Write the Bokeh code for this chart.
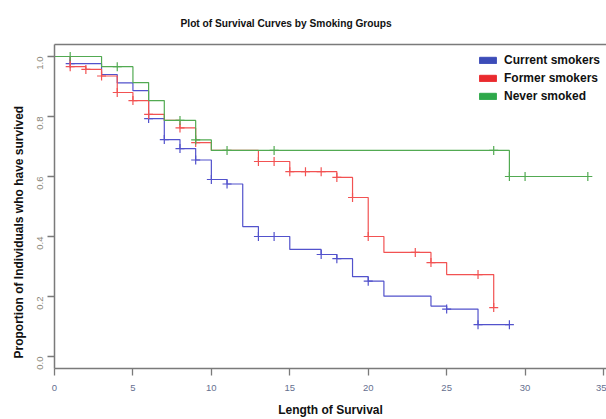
import numpy as np
from bokeh.plotting import figure
from bokeh.models import (Range1d, LinearAxis, FixedTicker, Legend, LegendItem, Title)
from bokeh.embed import file_html
from bokeh.resources import INLINE

# ---------------- data ----------------
title_text = "Plot of Survival Curves by Smoking Groups"
x_label_text = "Length of Survival"
y_label_text = "Proportion of Individuals who have survived"
groups = ["Current smokers", "Former smokers", "Never smoked"]

x_ticks = [0, 5, 10, 15, 20, 25, 30, 35]
y_ticks = [0.0, 0.2, 0.4, 0.6, 0.8, 1.0]
y_tick_labels = ["0.0", "0.2", "0.4", "0.6", "0.8", "1.0"]

current_times = [0, 1, 3, 4, 5, 6, 7, 8, 9, 10, 11, 12, 13, 15, 17, 18, 19, 20, 21, 24, 25, 27]
current_surv = [1.0, 0.976, 0.940, 0.912, 0.886, 0.793, 0.723, 0.693, 0.655, 0.590, 0.575,
                0.433, 0.400, 0.357, 0.340, 0.326, 0.266, 0.251, 0.201, 0.168, 0.158, 0.106]
current_end = 29
current_censor = [1, 6, 7, 8, 9, 10, 11, 13, 14, 17, 18, 20, 25, 27, 29]

former_times = [0, 1, 2, 3, 4, 5, 6, 7, 8, 9, 10, 13, 15, 18, 19, 20, 21, 24, 25, 28]
former_surv = [1.0, 0.966, 0.957, 0.935, 0.880, 0.853, 0.807, 0.787, 0.762, 0.713, 0.687,
               0.650, 0.616, 0.597, 0.530, 0.400, 0.347, 0.313, 0.273, 0.163]
former_end = 28
former_censor = [1, 2, 3, 4, 5, 6, 8, 9, 13, 14, 15, 16, 17, 18, 19, 20, 23, 24, 27, 28]

never_times = [0, 3, 5, 6, 7, 9, 10, 29]
never_surv = [1.0, 0.966, 0.913, 0.853, 0.787, 0.722, 0.687, 0.600]
never_end = 34
never_censor = [1, 4, 8, 9, 11, 14, 28, 29, 30, 34]

line_colors = ["#5252cc", "#f25252", "#52aa52"]
legend_colors = ["#3c4cb8", "#ea2a2e", "#2ea84a"]

# ---------------- layout ----------------
W, H = 606, 419
ML, MT, MB, MR = 54, 44, 50, 0
FRAME_W = W - ML - MR
X_PX_PER_UNIT = 15.686
X_MAX = FRAME_W / X_PX_PER_UNIT
Y_MIN, Y_MAX = -0.04, 1.04

p = figure(width=W, height=H, output_backend="svg", toolbar_location=None,
           x_range=Range1d(0, X_MAX), y_range=Range1d(Y_MIN, Y_MAX),
           min_border_left=ML, min_border_top=MT, min_border_bottom=MB,
           min_border_right=MR, x_axis_location=None, y_axis_location=None)
p.xgrid.visible = False
p.ygrid.visible = False
p.outline_line_color = None
p.background_fill_color = "white"
p.border_fill_color = "white"

FRAME_COL = "#7a7a7a"
FONT = "Liberation Sans"


def style_axis(ax, label_color):
    ax.axis_line_color = FRAME_COL
    ax.axis_line_width = 1.5
    ax.major_tick_line_color = FRAME_COL
    ax.major_tick_line_width = 1.3
    ax.major_tick_out = 7
    ax.major_tick_in = 0
    ax.minor_tick_line_color = None
    ax.minor_tick_out = 0
    ax.major_label_text_font = FONT
    ax.major_label_text_font_size = "9.5px"
    ax.major_label_text_color = label_color


xaxis = LinearAxis(ticker=FixedTicker(ticks=x_ticks), axis_label=x_label_text)
style_axis(xaxis, "#66708f")
xaxis.major_label_standoff = 9
xaxis.axis_label_standoff = 9
xaxis.axis_label_text_font = FONT
xaxis.axis_label_text_font_style = "bold"
xaxis.axis_label_text_font_size = "12px"
xaxis.axis_label_text_color = "#111111"
p.add_layout(xaxis, "below")

yaxis = LinearAxis(ticker=FixedTicker(ticks=y_ticks))
yaxis.major_label_overrides = {v: s for v, s in zip(y_ticks, y_tick_labels)}
style_axis(yaxis, "#8a8678")
yaxis.major_label_orientation = np.pi / 2
yaxis.major_label_standoff = 8
p.add_layout(yaxis, "left")

top_axis = LinearAxis(ticker=FixedTicker(ticks=[]))
top_axis.axis_line_color = FRAME_COL
top_axis.axis_line_width = 1.5
top_axis.major_tick_line_color = None
top_axis.minor_tick_line_color = None
top_axis.major_tick_out = 0
top_axis.minor_tick_out = 0
top_axis.major_label_standoff = 0
top_axis.major_label_text_font_size = "0px"
p.add_layout(top_axis, "above")

p.add_layout(Title(text=title_text, align="left", offset=126, vertical_align="top",
                   standoff=27, text_font=FONT, text_font_style="bold",
                   text_font_size="10.2px", text_color="#111111"), "above")
p.add_layout(Title(text=y_label_text, align="left", offset=10, vertical_align="top",
                   standoff=5, text_font=FONT, text_font_style="bold",
                   text_font_size="12px", text_color="#111111"), "left")


# ---------------- curves ----------------
def level_at(times, surv, t):
    idx = np.searchsorted(np.asarray(times), np.asarray(t), side="right") - 1
    return np.asarray(surv)[idx]


series = [
    (current_times, current_surv, current_end, current_censor),
    (former_times, former_surv, former_end, former_censor),
    (never_times, never_surv, never_end, never_censor),
]
for (times, surv, end, cens), col in zip(series, line_colors):
    xs = list(times) + [end]
    ys = list(surv) + [surv[-1]]
    p.step(x=xs, y=ys, mode="after", line_color=col, line_width=1.2)
    p.scatter(x=cens, y=level_at(times, surv, cens), marker="cross", size=9,
              line_color=col, line_width=1.2)

# legend with filled boxes (proxy renderers hold no visible data)
items = []
for name, col in zip(groups, legend_colors):
    r = p.quad(left=[np.nan], right=[np.nan], top=[np.nan], bottom=[np.nan],
               fill_color=col, line_color=col)
    items.append(LegendItem(label=name, renderers=[r]))
legend = Legend(items=items, location=(423, 265), orientation="vertical",
                glyph_width=21, glyph_height=8, label_height=14, spacing=4,
                label_standoff=6, padding=0, margin=0,
                label_text_font=FONT, label_text_font_style="bold",
                label_text_font_size="12px", label_text_color="#111111",
                border_line_alpha=0, background_fill_alpha=0)
p.add_layout(legend, "center")

open("out.html", "w").write(file_html(p, INLINE))
